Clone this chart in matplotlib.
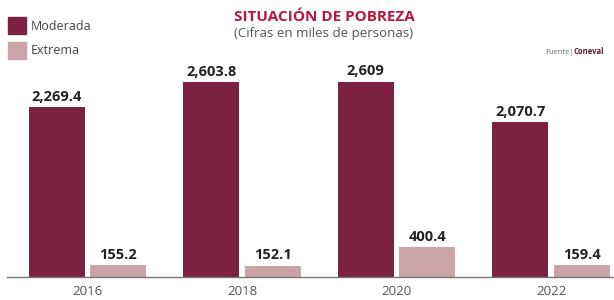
import matplotlib
matplotlib.use("Agg")
import matplotlib.pyplot as plt
import numpy as np

years = ["2016", "2018", "2020", "2022"]
moderada = [2269.4, 2603.8, 2609.0, 2070.7]
extrema = [155.2, 152.1, 400.4, 159.4]
mod_labels = ["2,269.4", "2,603.8", "2,609", "2,070.7"]
ext_labels = ["155.2", "152.1", "400.4", "159.4"]

C_MOD = "#7c2142"
C_EXT = "#cba4aa"

plt.rcParams['font.family'] = ['Open Sans', 'DejaVu Sans']

W, H = 614, 300
fig = plt.figure(figsize=(W / 100, H / 100), dpi=100)
# axes: left px 7, right px 614, bottom px 277, top px 40
ax = fig.add_axes([7 / W, (H - 277) / H, (614 - 7) / W, (277 - 40) / H])

x = np.arange(len(years))
bw = 0.362
off = 0.2
ax.bar(x - off, moderada, width=bw, color=C_MOD, zorder=2)
ax.bar(x + off, extrema, width=bw, color=C_EXT, zorder=2)

for xi, v, lab in zip(x, moderada, mod_labels):
    ax.text(xi - off, v + 45, lab, ha='center', va='bottom', fontsize=10.5,
            fontweight='bold', color='#222222')
for xi, v, lab in zip(x, extrema, ext_labels):
    ax.text(xi + off, v + 45, lab, ha='center', va='bottom', fontsize=10.5,
            fontweight='bold', color='#222222')

ax.set_xlim((7 - 87.5) / 154.5, (614 - 87.5) / 154.5)
ax.set_ylim(0, 237 / 0.0749)
ax.set_xticks(x)
ax.set_xticklabels(years, fontsize=9.5, color='#555555')
ax.tick_params(axis='x', length=0, pad=6)
ax.set_yticks([])
for s in ['top', 'right', 'left']:
    ax.spines[s].set_visible(False)
ax.spines['bottom'].set_color('#777777')
ax.spines['bottom'].set_linewidth(1.0)

# Title
fig.text(324 / W, 1 - 17 / H, "SITUACIÓN DE POBREZA", ha='center', va='center',
         fontsize=11, fontweight='bold', color='#b8163f')
fig.text(324 / W, 1 - 33 / H, "(Cifras en miles de personas)", ha='center', va='center',
         fontsize=9.5, color='#555555')

# Legend
fig.patches.append(plt.Rectangle((8 / W, 1 - 34 / H), 18 / W, 17 / H,
                                 transform=fig.transFigure, color=C_MOD))
fig.patches.append(plt.Rectangle((8 / W, 1 - 59 / H), 18 / W, 17 / H,
                                 transform=fig.transFigure, color=C_EXT))
fig.text(31 / W, 1 - 26 / H, "Moderada", ha='left', va='center', fontsize=9, color='#444444')
fig.text(31 / W, 1 - 51 / H, "Extrema", ha='left', va='center', fontsize=9, color='#444444')

# Source
fig.text(574 / W, 1 - 52 / H, "Fuente|", ha='right', va='center', fontsize=5.5, color='#666666')
fig.text(574 / W, 1 - 52 / H, "Coneval", ha='left', va='center', fontsize=5.5,
         fontweight='bold', color='#5a1a30')

fig.savefig("out.png", dpi=100)
